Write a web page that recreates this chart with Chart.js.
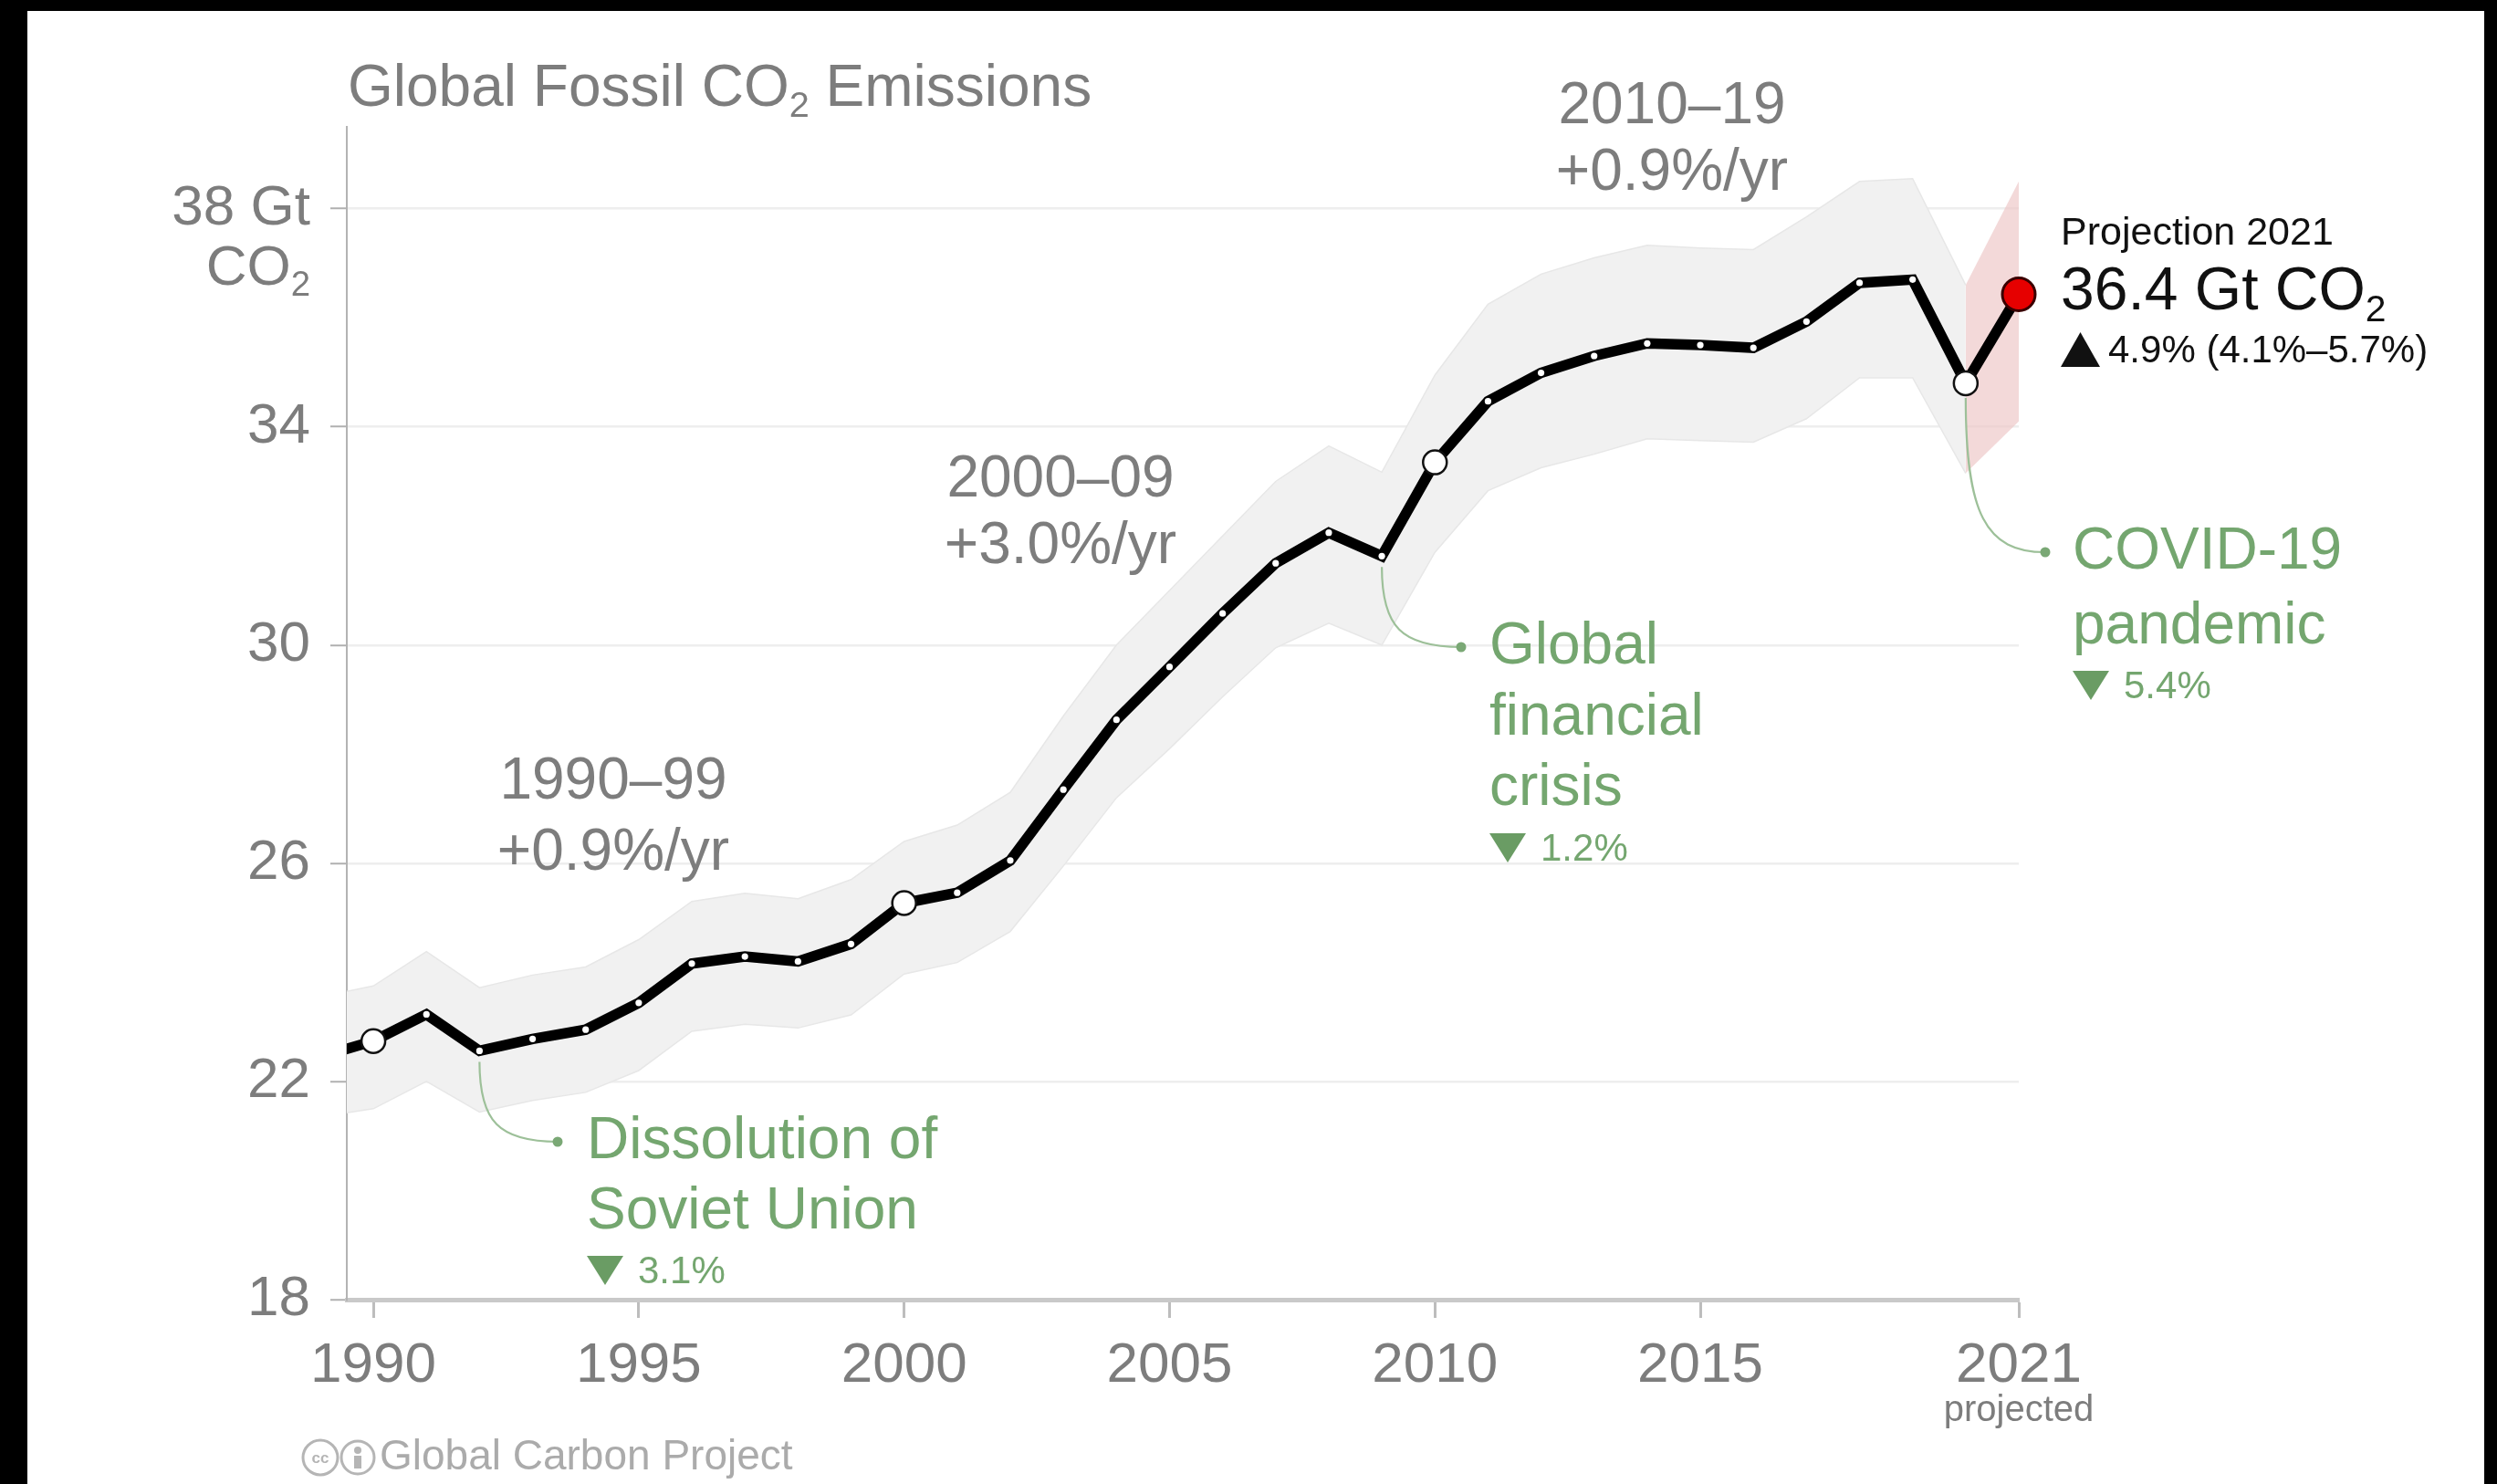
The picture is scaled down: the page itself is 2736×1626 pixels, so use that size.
<!DOCTYPE html>
<html><head><meta charset="utf-8">
<script src="https://cdn.jsdelivr.net/npm/chart.js@4.4.0/dist/chart.umd.min.js"></script>
<style>html,body{margin:0;padding:0;background:#000;overflow:hidden}canvas{display:block}</style>
</head><body>
<canvas id="c" width="2736" height="1626" style="width:2736px;height:1626px"></canvas>
<script>
const FONT = '"Liberation Sans", Arial, Helvetica, sans-serif';

// ---- data (Gt CO2) ----
const years = [1989,1990,1991,1992,1993,1994,1995,1996,1997,1998,1999,2000,2001,2002,2003,2004,2005,2006,2007,2008,2009,2010,2011,2012,2013,2014,2015,2016,2017,2018,2019,2020,2021];
const emissions = [22.45,22.74,23.23,22.56,22.78,22.95,23.44,24.16,24.29,24.2,24.52,25.27,25.46,26.05,27.35,28.63,29.6,30.58,31.5,32.06,31.63,33.35,34.47,34.99,35.3,35.53,35.5,35.45,35.93,36.64,36.7,34.8,36.43];
const bandYears = [1989,1990,1991,1992,1993,1994,1995,1996,1997,1998,1999,2000,2001,2002,2003,2004,2005,2006,2007,2008,2009,2010,2011,2012,2013,2014,2015,2016,2017,2018,2019,2020];
const bandUpper = [23.55,23.75,24.38,23.72,23.95,24.1,24.6,25.3,25.45,25.35,25.7,26.4,26.7,27.3,28.7,30.0,31.0,32.0,33.0,33.65,33.17,34.95,36.25,36.8,37.1,37.33,37.28,37.25,37.85,38.5,38.55,36.6];
const bandLower = [21.35,21.5,22.0,21.44,21.65,21.8,22.2,22.92,23.05,22.98,23.22,23.97,24.18,24.75,25.95,27.2,28.1,29.05,29.95,30.4,30.0,31.7,32.83,33.25,33.5,33.78,33.75,33.72,34.15,34.9,34.9,33.15];
const projYears = [2020, 2021];
const projUpper = [36.6, 38.5];
const projLower = [33.15, 34.1];
const yTicks = [18, 22, 26, 30, 34, 38];
const xTicks = [1990, 1995, 2000, 2005, 2010, 2015, 2021];
const milestoneYears = [1990, 2000, 2010, 2020];
const projectionYear = 2021;

const GRAY = '#7d7d7d', GREEN = '#74a66f', GREEN_DARK = '#6a9c64', LEADER = '#9dc099';

function pts(xs, ys){ return xs.map((x,i)=>({x, y: ys[i]})); }

function rich(ctx, parts, x, y, size, color, align){
  ctx.save();
  ctx.fillStyle = color; ctx.textBaseline = 'middle'; ctx.textAlign = 'left';
  const sub = size*0.62;
  const w = parts.map(([t,s]) => { ctx.font = `${s?sub:size}px ${FONT}`; return ctx.measureText(t).width; });
  const total = w.reduce((a,b)=>a+b,0);
  let cx = align==='center' ? x-total/2 : align==='right' ? x-total : x;
  parts.forEach(([t,s],i)=>{ ctx.font = `${s?sub:size}px ${FONT}`; ctx.fillText(t, cx, s ? y+size*0.3 : y); cx += w[i]; });
  ctx.restore();
}
function text(ctx, t, x, y, size, color, align){ rich(ctx, [[t,false]], x, y, size, color, align||'left'); }
function tri(ctx, x, yc, w, h, down, color){
  ctx.save(); ctx.fillStyle = color; ctx.beginPath();
  if (down){ ctx.moveTo(x, yc-h/2); ctx.lineTo(x+w, yc-h/2); ctx.lineTo(x+w/2, yc+h/2); }
  else { ctx.moveTo(x, yc+h/2); ctx.lineTo(x+w, yc+h/2); ctx.lineTo(x+w/2, yc-h/2); }
  ctx.closePath(); ctx.fill(); ctx.restore();
}
function leader(ctx, x0, y0, x1, y1){
  ctx.save(); ctx.strokeStyle = LEADER; ctx.lineWidth = 2.2; ctx.beginPath();
  ctx.moveTo(x0, y0);
  ctx.bezierCurveTo(x0, y0 + (y1-y0)*0.75, x0 + (x1-x0)*0.25, y1, x1, y1);
  ctx.stroke();
  ctx.fillStyle = '#7aa875'; ctx.beginPath(); ctx.arc(x1, y1, 5.5, 0, Math.PI*2); ctx.fill();
  ctx.restore();
}

// annotation layout (pixel placement of text blocks)
const layoutPos = {
  title: {x: 381, y: 98},
  co2Unit: {x: 340, y: 295},
  projected: {x: 2212, y: 1546},
  dec1: {x: 672, y1: 857, y2: 935},
  dec2: {x: 1162, y1: 526, y2: 599},
  dec3: {x: 1832, y1: 117, y2: 190},
  soviet: {dot: [611, 1251], tx: 643, lines: [1251, 1328], pct: 1392},
  gfc: {dot: [1601, 709], tx: 1632, lines: [709, 787, 864], pct: 929},
  covid: {dot: [2241, 605], tx: 2271, lines: [605, 687], pct: 751},
  proj: {x: 2258, y1: 256, y2: 321, y3: 385},
  footer: {x: 331, y: 1597}
};

const bgPlugin = {
  id: 'bg',
  beforeDraw(chart){
    const ctx = chart.ctx;
    ctx.save(); ctx.fillStyle = '#000'; ctx.fillRect(0,0,chart.width,chart.height);
    ctx.fillStyle = '#fff'; ctx.fillRect(30, 12, 2692, 1614); ctx.restore();
  }
};

const annPlugin = {
  id: 'ann',
  afterDraw(chart){
    const ctx = chart.ctx, xs = chart.scales.x, ys = chart.scales.y, L = layoutPos;
    const px = yr => xs.getPixelForValue(yr);
    const py = yr => ys.getPixelForValue(emissions[years.indexOf(yr)]);
    rich(ctx, [['Global Fossil CO',false],['2',true],[' Emissions',false]], L.title.x, L.title.y, 64, GRAY, 'left');
    rich(ctx, [['CO',false],['2',true]], L.co2Unit.x, L.co2Unit.y, 62, GRAY, 'right');
    text(ctx, 'projected', L.projected.x, L.projected.y, 40, GRAY, 'center');
    text(ctx, '1990–99', L.dec1.x, L.dec1.y1, 64, GRAY, 'center');
    text(ctx, '+0.9%/yr', L.dec1.x, L.dec1.y2, 64, GRAY, 'center');
    text(ctx, '2000–09', L.dec2.x, L.dec2.y1, 64, GRAY, 'center');
    text(ctx, '+3.0%/yr', L.dec2.x, L.dec2.y2, 64, GRAY, 'center');
    text(ctx, '2010–19', L.dec3.x, L.dec3.y1, 64, GRAY, 'center');
    text(ctx, '+0.9%/yr', L.dec3.x, L.dec3.y2, 64, GRAY, 'center');
    const ev = [
      {yr: 1992, off: 12, p: L.soviet, lines: ['Dissolution of','Soviet Union'], pct: '3.1%'},
      {yr: 2009, off: 12, p: L.gfc, lines: ['Global','financial','crisis'], pct: '1.2%'},
      {yr: 2020, off: 16, p: L.covid, lines: ['COVID-19','pandemic'], pct: '5.4%'}
    ];
    ev.forEach(e => {
      leader(ctx, px(e.yr), py(e.yr) + e.off, e.p.dot[0], e.p.dot[1]);
      e.lines.forEach((t,i)=> text(ctx, t, e.p.tx, e.p.lines[i], 64, GREEN, 'left'));
      tri(ctx, e.p.tx, e.p.pct, 40, 32, true, GREEN_DARK);
      text(ctx, e.pct, e.p.tx + 56, e.p.pct + 2, 42, GREEN, 'left');
    });
    text(ctx, 'Projection 2021', L.proj.x, L.proj.y1, 43, '#111', 'left');
    rich(ctx, [['36.4 Gt CO',false],['2',true]], L.proj.x, L.proj.y2, 66, '#111', 'left');
    tri(ctx, L.proj.x, L.proj.y3 - 2, 43, 38, false, '#111');
    text(ctx, '4.9% (4.1%–5.7%)', L.proj.x + 52, L.proj.y3, 42, '#111', 'left');
    const f = L.footer;
    ctx.save(); ctx.strokeStyle = '#b5b5b5'; ctx.lineWidth = 3;
    ctx.beginPath(); ctx.arc(f.x+20, f.y, 19, 0, Math.PI*2); ctx.stroke();
    ctx.beginPath(); ctx.arc(f.x+61, f.y, 18, 0, Math.PI*2); ctx.stroke();
    ctx.fillStyle = '#b5b5b5';
    ctx.font = `bold 17px ${FONT}`; ctx.textAlign = 'center'; ctx.textBaseline = 'middle';
    ctx.fillText('cc', f.x+20, f.y+1);
    ctx.beginPath(); ctx.arc(f.x+61, f.y-8, 4, 0, Math.PI*2); ctx.fill();
    ctx.fillRect(f.x+57, f.y-2, 8, 14);
    ctx.restore();
    text(ctx, 'Global Carbon Project', f.x + 85, f.y, 46, '#ababab', 'left');
  }
};

const noClip = {left: 0, top: false, right: false, bottom: false};

new Chart(document.getElementById('c'), {
  type: 'line',
  data: {
    datasets: [
      {
        data: pts(years, emissions),
        borderColor: '#000', borderWidth: 11.5, tension: 0, fill: false,
        borderJoinStyle: 'miter',
        pointRadius: years.map(y => y === projectionYear ? 18 : milestoneYears.includes(y) ? 13 : (y < 1990 ? 0 : 3.6)),
        pointBackgroundColor: years.map(y => y === projectionYear ? '#e60000' : '#ffffff'),
        pointBorderColor: years.map(y => y === projectionYear ? '#3a0000' : '#111'),
        pointBorderWidth: years.map(y => y === projectionYear ? 3 : milestoneYears.includes(y) ? 2.5 : 0),
        clip: noClip
      },
      { data: pts(bandYears, bandUpper), borderColor: '#e7e7e7', borderWidth: 1.5, pointRadius: 0, fill: false, tension: 0, clip: noClip },
      { data: pts(bandYears, bandLower), borderColor: '#e7e7e7', borderWidth: 1.5, pointRadius: 0, fill: '-1', backgroundColor: '#f1f1f1', tension: 0, clip: noClip },
      { data: pts(projYears, projUpper), borderColor: 'rgba(0,0,0,0)', borderWidth: 0, pointRadius: 0, fill: false, tension: 0, clip: noClip },
      { data: pts(projYears, projLower), borderColor: 'rgba(0,0,0,0)', borderWidth: 0, pointRadius: 0, fill: '-1', backgroundColor: 'rgba(236,196,196,0.65)', tension: 0, clip: noClip }
    ]
  },
  options: {
    responsive: false, devicePixelRatio: 1, animation: false, events: [],
    layout: {padding: {top: 139, right: 524, left: 0, bottom: 0}},
    plugins: {legend: {display: false}, tooltip: {enabled: false}},
    scales: {
      x: {
        type: 'linear', min: 1989.5, max: 2021,
        afterBuildTicks: s => { s.ticks = xTicks.map(v => ({value: v})); },
        afterFit: s => { s.height = 202; },
        grid: {drawOnChartArea: false, drawTicks: true, tickLength: 20, tickColor: '#bdbdbd', tickWidth: 3},
        border: {display: true, color: '#c9c9c9', width: 5},
        ticks: {color: GRAY, font: {family: FONT, size: 62}, padding: 16, maxRotation: 0, autoSkip: false, callback: v => String(v)}
      },
      y: {
        type: 'linear', min: 18, max: 39.5,
        afterBuildTicks: s => { s.ticks = yTicks.map(v => ({value: v})); },
        afterFit: s => { s.width = 380; },
        grid: {color: '#eeeeee', lineWidth: 2.5, drawTicks: true, tickLength: 18, tickColor: '#b0b0b0', tickWidth: 2},
        border: {color: '#b3b3b3', width: 2},
        ticks: {color: GRAY, font: {family: FONT, size: 62}, padding: 22, autoSkip: false, callback: v => v === 38 ? '38 Gt' : String(v)}
      }
    }
  },
  plugins: [bgPlugin, annPlugin]
});
</script>
</body></html>
